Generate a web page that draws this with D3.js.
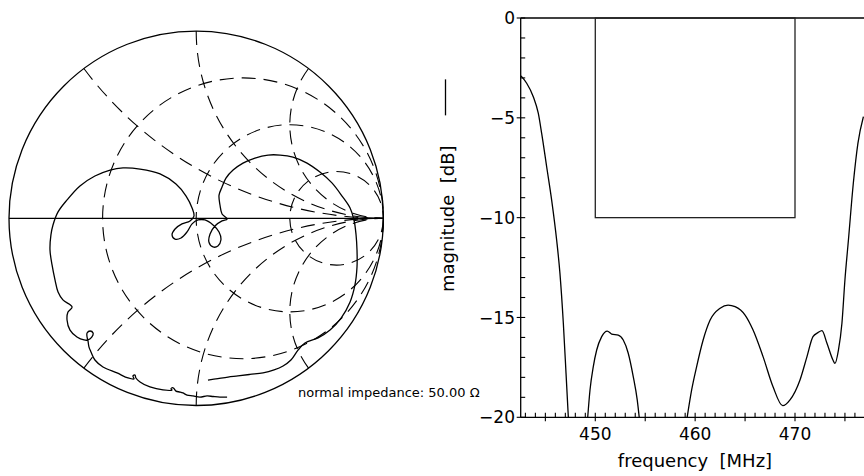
<!DOCTYPE html>
<html><head><meta charset="utf-8">
<script src="https://cdn.jsdelivr.net/npm/d3@7"></script>
<style>
html,body{margin:0;padding:0;background:#fff;}
svg{display:block;}
text{font-family:"DejaVu Sans",sans-serif;fill:#000;white-space:pre;}
</style></head><body>
<svg id="chart" width="864" height="476"></svg>
<script>
// ---------- Smith chart data (reflection coefficient, normalised) ----------
const gammaRe = [0.165,0.127,0.090,0.058,0.020,-0.017,-0.049,-0.071,-0.087,-0.108,-0.119,-0.127,-0.135,-0.129,-0.177,-0.247,-0.300,-0.322,-0.327,-0.338,-0.332,-0.364,-0.423,-0.498,-0.541,-0.562,
  -0.573,-0.578,-0.583,-0.583,-0.567,-0.551,-0.557,-0.578,-0.599,
  -0.637,-0.674,-0.690,-0.685,-0.663,-0.712,-0.738,-0.754,-0.770,-0.781,-0.776,-0.765,-0.738,-0.690,-0.621,-0.541,-0.460,-0.391,-0.300,-0.193,-0.108,-0.054,-0.022,-0.012,
  -0.033,-0.076,-0.113,-0.129,-0.113,-0.081,-0.049,-0.022,0.010,0.047,0.090,0.122,0.132,0.116,0.090,0.068,0.074,0.100,0.138,0.165,0.138,0.127,0.122,0.138,
  0.159,0.197,0.250,0.314,0.384,0.448,0.517,0.592,0.661,0.725,0.779,0.822,0.843,0.854,0.859,0.859,0.848,0.822,0.774,0.715,0.651,0.581,0.544,0.506,0.464,0.416,0.357,0.287,0.223,0.170,0.116,0.063];
const gammaIm = [-0.955,-0.955,-0.952,-0.949,-0.955,-0.949,-0.944,-0.933,-0.928,-0.923,-0.909,-0.904,-0.912,-0.917,-0.917,-0.901,-0.874,-0.853,-0.837,-0.842,-0.858,-0.853,-0.826,-0.794,-0.757,-0.714,
  -0.687,-0.655,-0.634,-0.613,-0.602,-0.613,-0.634,-0.650,-0.650,
  -0.634,-0.597,-0.543,-0.501,-0.474,-0.436,-0.394,-0.330,-0.249,-0.169,-0.089,-0.036,0.034,0.098,0.173,0.226,0.258,0.269,0.263,0.237,0.183,0.119,0.055,0.012,
  -0.014,-0.030,-0.057,-0.089,-0.111,-0.105,-0.073,-0.030,-0.009,-0.009,-0.036,-0.073,-0.116,-0.148,-0.153,-0.127,-0.084,-0.041,-0.014,-0.004,0.023,0.071,0.124,0.167,
  0.215,0.258,0.295,0.322,0.338,0.338,0.327,0.295,0.247,0.189,0.119,0.055,-0.009,-0.089,-0.169,-0.260,-0.356,-0.447,-0.533,-0.597,-0.639,-0.666,-0.704,-0.757,-0.789,-0.810,-0.826,-0.834,-0.842,-0.848,-0.856,-0.864];
const resistanceCircles = [1/3, 1, 3];
const reactanceArcs = [0.5, 1, 2, -0.5, -1, -2];
const impedanceNote = "normal impedance: 50.00 \u03A9";

// ---------- magnitude plot data ----------
const magSeg1 = [[442.56,-2.9],[443.13,-3.27],[443.79,-3.94],[444.29,-4.77],[444.63,-5.78],[445.13,-7.45],[445.63,-9.12],[446.13,-11.12],[446.46,-12.79],[446.8,-15.29],[447.07,-17.8],[447.3,-20]];
const magSeg2 = [[449.24,-20],[449.47,-18.63],[449.8,-17.46],[450.14,-16.63],[450.64,-15.96],[451.2,-15.68],[451.64,-15.83],[452.3,-15.88],[452.8,-16.13],[453.3,-16.79],[453.8,-17.96],[454.2,-19.13],[454.4,-20]];
const magSeg3 = [[459.2,-20],[459.65,-18.63],[460.15,-17.46],[460.8,-16.13],[461.5,-15.13],[462.5,-14.54],[463.3,-14.38],[464.0,-14.46],[465.0,-14.88],[465.8,-15.63],[466.8,-16.96],[467.8,-18.47],[468.77,-19.42],[469.5,-19.13],[470.5,-18.13],[471.2,-16.96],[471.8,-15.96],[472.3,-15.76],[472.7,-15.66],[473.2,-16.29],[473.8,-17.13],[474.0,-17.3],[474.35,-16.63],[474.7,-15.29],[475.0,-13.12],[475.35,-11.12],[475.84,-8.28],[476.3,-6.28],[476.85,-4.94]];
const maskFreq = [450, 470];
const maskLevel = [0, -10];
const xMinorTicks = d3.range(443, 480, 1);
const xMajorTicks = d3.range(445, 480, 5);
const xTickLabels = [450, 460, 470];
const yMinorTicks = d3.range(-19, 0, 1);
const yMajorTicks = [0, -5, -10, -15, -20];
const xTitle = "frequency  [MHz]";
const yTitle = "magnitude  [dB]";

const svg = d3.select("#chart");

// ================= Smith chart =================
const sx = d3.scaleLinear().domain([-1, 1]).range([9.0, 383.4]);
const sy = d3.scaleLinear().domain([-1, 1]).range([405.5, 31.1]);
const rad = v => sx(v) - sx(0);
const smith = svg.append("g").attr("fill", "none").attr("stroke", "#000");

smith.append("circle").attr("cx", sx(0)).attr("cy", sy(0)).attr("r", rad(1)).attr("stroke-width", 1.3);
smith.append("line").attr("x1", sx(-1)).attr("x2", sx(1)).attr("y1", sy(0)).attr("y2", sy(0)).attr("stroke-width", 1.3);

const grid = smith.append("g").attr("stroke-width", 1.1).attr("stroke-dasharray", "14 8");
grid.selectAll("circle.r").data(resistanceCircles).join("circle")
  .attr("class", "r")
  .attr("cx", r => sx(r / (1 + r))).attr("cy", sy(0)).attr("r", r => rad(1 / (1 + r)));
grid.selectAll("path.x").data(reactanceArcs).join("path")
  .attr("class", "x")
  .attr("d", x => {
    const px = (x * x - 1) / (x * x + 1), py = 2 * x / (x * x + 1);
    const rr = rad(1 / Math.abs(x));
    return `M${sx(px)},${sy(py)} A${rr},${rr} 0 0 ${x > 0 ? 0 : 1} ${sx(1)},${sy(0)}`;
  });

const gammaPts = gammaRe.map((re, i) => [re, gammaIm[i]]);
smith.append("path").datum(gammaPts)
  .attr("stroke-width", 1.3)
  .attr("d", d3.line().x(d => sx(d[0])).y(d => sy(d[1])).curve(d3.curveCatmullRom.alpha(0.5)));

svg.append("text").attr("x", 298).attr("y", 396.5).attr("font-size", 13).text(impedanceNote);

// ================= magnitude plot =================
const fx = d3.scaleLinear().domain([442.53, 477.0]).range([520.7, 864.9]);
const my = d3.scaleLinear().domain([-20, 0]).range([417.3, 18]);
const x0 = fx.range()[0], x1 = fx.range()[1];

svg.append("defs").append("clipPath").attr("id", "plotClip").append("rect")
  .attr("x", x0).attr("y", my(0) - 1).attr("width", x1 - x0).attr("height", my(-20) - my(0) + 2);

const ax = svg.append("g").attr("stroke", "#000").attr("stroke-width", 1.3).attr("fill", "none");
ax.append("line").attr("x1", x0).attr("x2", x0).attr("y1", my(0)).attr("y2", my(-20));
ax.append("line").attr("x1", x0).attr("x2", x1).attr("y1", my(-20)).attr("y2", my(-20));
ax.append("line").attr("x1", x0).attr("x2", x1).attr("y1", my(0)).attr("y2", my(0));

// x ticks
ax.selectAll("line.xm").data(xMinorTicks.filter(t => t % 5 !== 0)).join("line").attr("class", "xm")
  .attr("x1", d => fx(d)).attr("x2", d => fx(d)).attr("y1", my(-20)).attr("y2", my(-20) - 4.5).attr("stroke-width", 1.1);
ax.selectAll("line.xM").data(xMajorTicks).join("line").attr("class", "xM")
  .attr("x1", d => fx(d)).attr("x2", d => fx(d)).attr("y1", my(-20) - 4.5).attr("y2", my(-20) + 4).attr("stroke-width", 1.1);
// y ticks
ax.selectAll("line.ym").data(yMinorTicks.filter(t => t % 5 !== 0)).join("line").attr("class", "ym")
  .attr("x1", x0).attr("x2", x0 + 4.5).attr("y1", d => my(d)).attr("y2", d => my(d)).attr("stroke-width", 1.1);
ax.selectAll("line.yM").data(yMajorTicks).join("line").attr("class", "yM")
  .attr("x1", x0 - 4).attr("x2", x0 + 4.5).attr("y1", d => my(d)).attr("y2", d => my(d)).attr("stroke-width", 1.1);

svg.append("g").selectAll("text").data(xTickLabels).join("text")
  .attr("x", d => fx(d)).attr("y", 440).attr("text-anchor", "middle").attr("font-size", 17)
  .text(d => d);
svg.append("g").selectAll("text").data(yMajorTicks).join("text")
  .attr("x", 515).attr("y", d => my(d)).attr("dy", "0.36em").attr("text-anchor", "end").attr("font-size", 17)
  .text(d => d < 0 ? "\u2212" + Math.abs(d) : String(d));

svg.append("text").attr("x", 695).attr("y", 466.5).attr("text-anchor", "middle").attr("font-size", 18).text(xTitle);

const yt = svg.append("g").attr("transform", "translate(453.5,292) rotate(-90)");
const ytText = yt.append("text").attr("x", 0).attr("y", 0).attr("font-size", 18).text(yTitle);
const tw = ytText.node().getComputedTextLength();
yt.append("line").attr("x1", tw + 30).attr("x2", tw + 66).attr("y1", -8).attr("y2", -8)
  .attr("stroke", "#000").attr("stroke-width", 1.3);

// mask box
svg.append("rect").attr("x", fx(maskFreq[0])).attr("y", my(maskLevel[0]))
  .attr("width", fx(maskFreq[1]) - fx(maskFreq[0])).attr("height", my(maskLevel[1]) - my(maskLevel[0]))
  .attr("fill", "none").attr("stroke", "#222").attr("stroke-width", 1.3);

const magLine = d3.line().x(d => fx(d[0])).y(d => my(d[1])).curve(d3.curveMonotoneX);
svg.append("g").attr("clip-path", "url(#plotClip)").selectAll("path").data([magSeg1, magSeg2, magSeg3]).join("path")
  .attr("d", magLine).attr("fill", "none").attr("stroke", "#000").attr("stroke-width", 1.3);
</script></body></html>
